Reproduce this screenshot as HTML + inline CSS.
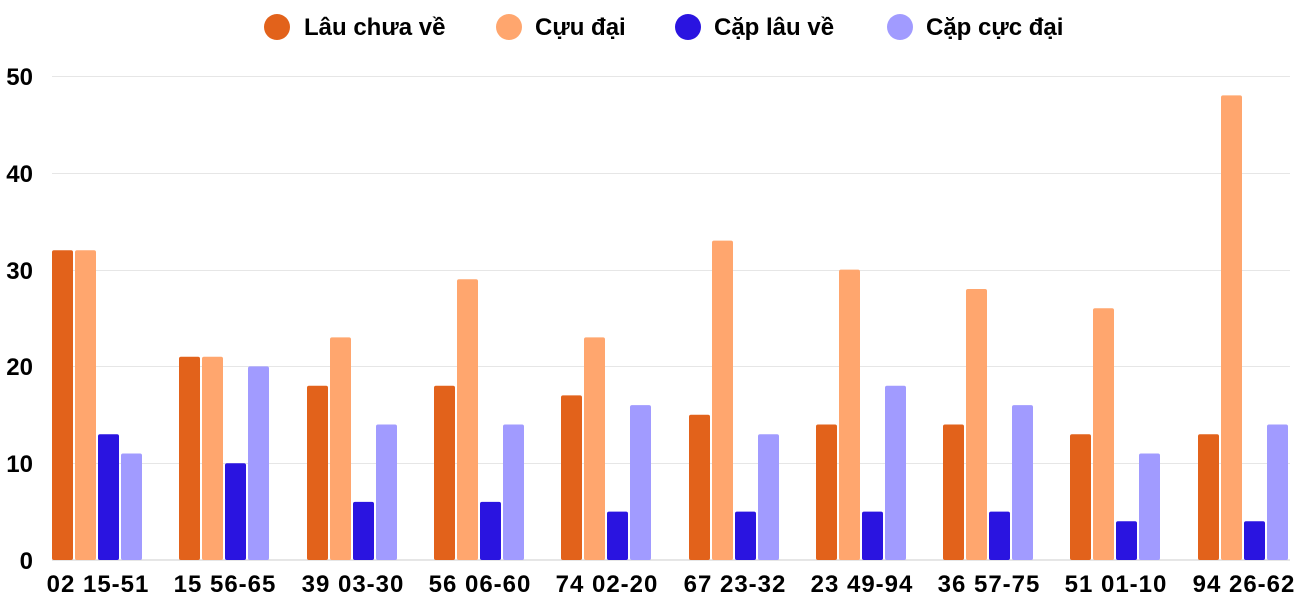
<!DOCTYPE html><html><head><style>body{margin:0;background:#fff}svg{display:block}text{font-family:"Liberation Sans",sans-serif;font-weight:bold;fill:#000}</style></head><body>
<svg width="1300" height="600" xmlns="http://www.w3.org/2000/svg">
<g stroke="#e6e6e6" stroke-width="1">
<line x1="52" x2="1290" y1="76.5" y2="76.5"/><line x1="52" x2="1290" y1="173.5" y2="173.5"/><line x1="52" x2="1290" y1="270.5" y2="270.5"/><line x1="52" x2="1290" y1="366.5" y2="366.5"/><line x1="52" x2="1290" y1="463.5" y2="463.5"/>
</g>
<line x1="52" x2="1290" y1="560" y2="560" stroke="#ccc"/>
<g font-size="24" text-anchor="end">
<text x="33" y="85">50</text><text x="33" y="182">40</text><text x="33" y="279">30</text><text x="33" y="375">20</text><text x="33" y="472">10</text><text x="33" y="569">0</text>
</g>
<g font-size="24">
<circle cx="277" cy="27" r="13" fill="#E2621B"/><text x="304" y="35">Lâu chưa về</text>
<circle cx="509" cy="27" r="13" fill="#FFA66E"/><text x="535" y="35">Cựu đại</text>
<circle cx="688" cy="27" r="13" fill="#2A14E0"/><text x="714" y="35">Cặp lâu về</text>
<circle cx="900" cy="27" r="13" fill="#A19BFF"/><text x="926" y="35">Cặp cực đại</text>
</g>
<g>
<rect x="52" y="250.2" width="21" height="309.8" rx="2" fill="#E2621B"/>
<rect x="75" y="250.2" width="21" height="309.8" rx="2" fill="#FFA66E"/>
<rect x="98" y="434.2" width="21" height="125.8" rx="2" fill="#2A14E0"/>
<rect x="121" y="453.5" width="21" height="106.5" rx="2" fill="#A19BFF"/>
<rect x="179" y="356.7" width="21" height="203.3" rx="2" fill="#E2621B"/>
<rect x="202" y="356.7" width="21" height="203.3" rx="2" fill="#FFA66E"/>
<rect x="225" y="463.2" width="21" height="96.8" rx="2" fill="#2A14E0"/>
<rect x="248" y="366.4" width="21" height="193.6" rx="2" fill="#A19BFF"/>
<rect x="307" y="385.8" width="21" height="174.2" rx="2" fill="#E2621B"/>
<rect x="330" y="337.4" width="21" height="222.6" rx="2" fill="#FFA66E"/>
<rect x="353" y="501.9" width="21" height="58.1" rx="2" fill="#2A14E0"/>
<rect x="376" y="424.5" width="21" height="135.5" rx="2" fill="#A19BFF"/>
<rect x="434" y="385.8" width="21" height="174.2" rx="2" fill="#E2621B"/>
<rect x="457" y="279.3" width="21" height="280.7" rx="2" fill="#FFA66E"/>
<rect x="480" y="501.9" width="21" height="58.1" rx="2" fill="#2A14E0"/>
<rect x="503" y="424.5" width="21" height="135.5" rx="2" fill="#A19BFF"/>
<rect x="561" y="395.4" width="21" height="164.6" rx="2" fill="#E2621B"/>
<rect x="584" y="337.4" width="21" height="222.6" rx="2" fill="#FFA66E"/>
<rect x="607" y="511.6" width="21" height="48.4" rx="2" fill="#2A14E0"/>
<rect x="630" y="405.1" width="21" height="154.9" rx="2" fill="#A19BFF"/>
<rect x="689" y="414.8" width="21" height="145.2" rx="2" fill="#E2621B"/>
<rect x="712" y="240.6" width="21" height="319.4" rx="2" fill="#FFA66E"/>
<rect x="735" y="511.6" width="21" height="48.4" rx="2" fill="#2A14E0"/>
<rect x="758" y="434.2" width="21" height="125.8" rx="2" fill="#A19BFF"/>
<rect x="816" y="424.5" width="21" height="135.5" rx="2" fill="#E2621B"/>
<rect x="839" y="269.6" width="21" height="290.4" rx="2" fill="#FFA66E"/>
<rect x="862" y="511.6" width="21" height="48.4" rx="2" fill="#2A14E0"/>
<rect x="885" y="385.8" width="21" height="174.2" rx="2" fill="#A19BFF"/>
<rect x="943" y="424.5" width="21" height="135.5" rx="2" fill="#E2621B"/>
<rect x="966" y="289" width="21" height="271" rx="2" fill="#FFA66E"/>
<rect x="989" y="511.6" width="21" height="48.4" rx="2" fill="#2A14E0"/>
<rect x="1012" y="405.1" width="21" height="154.9" rx="2" fill="#A19BFF"/>
<rect x="1070" y="434.2" width="21" height="125.8" rx="2" fill="#E2621B"/>
<rect x="1093" y="308.3" width="21" height="251.7" rx="2" fill="#FFA66E"/>
<rect x="1116" y="521.3" width="21" height="38.7" rx="2" fill="#2A14E0"/>
<rect x="1139" y="453.5" width="21" height="106.5" rx="2" fill="#A19BFF"/>
<rect x="1198" y="434.2" width="21" height="125.8" rx="2" fill="#E2621B"/>
<rect x="1221" y="95.4" width="21" height="464.6" rx="2" fill="#FFA66E"/>
<rect x="1244" y="521.3" width="21" height="38.7" rx="2" fill="#2A14E0"/>
<rect x="1267" y="424.5" width="21" height="135.5" rx="2" fill="#A19BFF"/>
</g>
<g font-size="24" text-anchor="middle" letter-spacing="1">
<text x="98" y="592">02 15-51</text>
<text x="225" y="592">15 56-65</text>
<text x="353" y="592">39 03-30</text>
<text x="480" y="592">56 06-60</text>
<text x="607" y="592">74 02-20</text>
<text x="735" y="592">67 23-32</text>
<text x="862" y="592">23 49-94</text>
<text x="989" y="592">36 57-75</text>
<text x="1116" y="592">51 01-10</text>
<text x="1244" y="592">94 26-62</text>
</g>
</svg></body></html>
